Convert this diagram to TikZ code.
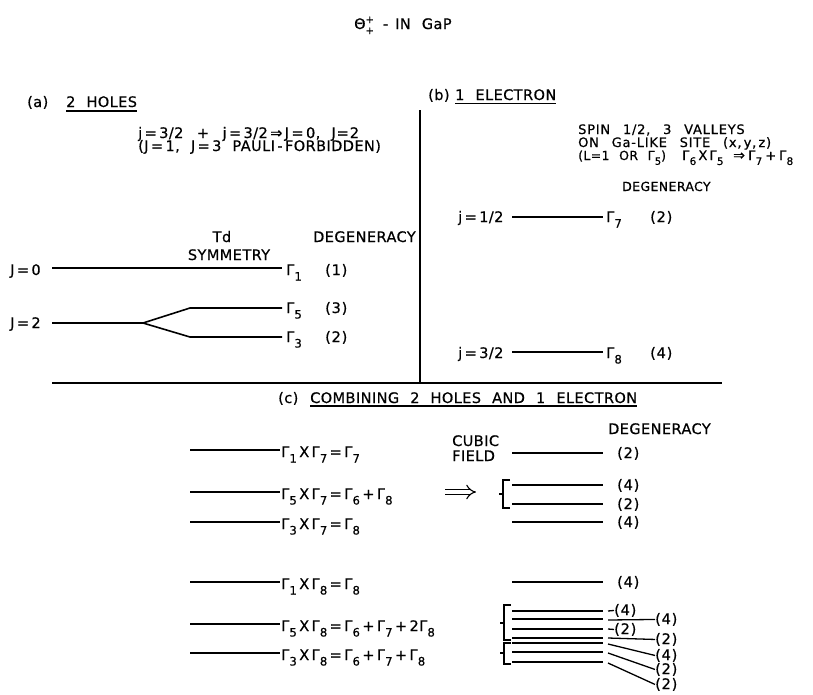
\documentclass[tikz,border=0pt]{standalone}
\usepackage{fontspec}
\setmainfont{DejaVu Sans}[WordSpace=2.2,LetterSpace=3,FakeBold=0.6]
\newfontfamily\wide{DejaVu Sans}[WordSpace=2.6,LetterSpace=6,FakeBold=0.6]
\usetikzlibrary{arrows.meta}
\newcommand{\Gm}[1]{Γ\kern0.2pt\raisebox{-0.38em}{\scalebox{0.8}{#1}}}
\newcommand{\dg}[1]{(\kern0.8pt#1\kern0.8pt)}
\tikzset{
  t/.style={inner sep=0pt, anchor=base west, font=\fontsize{14.5}{16}\selectfont},
  tc/.style={t, anchor=base},
  ts/.style={t, font=\wide\fontsize{13}{14}\selectfont},
  tsd/.style={t, font=\fontsize{12.5}{14}\selectfont},
  lv/.style={line width=1.6pt},
  lb/.style={line width=2.4pt},
  ln/.style={line width=1.3pt},
  ul/.style={line width=1.2pt},
  fr/.style={line width=1.5pt},
}
\begin{document}
\begin{tikzpicture}[x=1pt,y=-1pt]
\useasboundingbox (0,0) rectangle (813,694);
% title
\node[t] (title) at (354,29) {Θ\makebox[0pt][l]{\raisebox{6pt}{\fontsize{10}{10}\selectfont+}}\raisebox{-5pt}{\fontsize{10}{10}\selectfont+}\kern9pt-\kern7pt IN GaP};
% frame
\draw[fr] (420,110) -- (420,383);
\draw[fr] (52,383) -- (722,383);
% (a)
\node[t] (alab) at (27,107) {(a)};
\node[t] (ahead) at (66,107) {2 HOLES};
\draw[ul] ([yshift=-4pt]ahead.base west) -- ([yshift=-4pt]ahead.base east);
\node[t] (aeq1) at (138,138) {j\,=\,3/2 \,+\, j\,=\,3/2\,⇒\,J\,=\,0, J\kern1pt=\kern1pt2};
\node[t] (aeq2) at (138,151) {(J\,=\,1, J\,=\,3 PAULI\,-\,FORBIDDEN)};
\node[tc] (td) at (222,242) {Td};
\node[tc] (sym) at (229,260) {SYMMETRY};
\node[t] (adeg) at (313,242) {DEGENERACY};
\node[t] (J0) at (10,275) {J\,=\,0};
\node[t] (J2) at (10,328) {J\,=\,2};
\coordinate (s) at (143,323);
\draw[lv] (52,268) -- (282,268);
\draw[lv] (52,323) -- (s) -- (190,308) -- (282,308);
\draw[lv] (s) -- (190,337) -- (282,337);
\node[t] (g1) at (286,275) {\Gm{1}};
\node[t] (g5) at (286,313) {\Gm{5}};
\node[t] (g3) at (286,342) {\Gm{3}};
\node[t] (d1) at (325,275) {\dg{1}};
\node[t] (d3) at (325,313) {\dg{3}};
\node[t] (d2) at (325,342) {\dg{2}};
% (b)
\node[t] (blab) at (428,100) {(b)};
\node[t] (bhead) at (455,100) {1 ELECTRON};
\draw[ul] ([yshift=-3.5pt]bhead.base west) -- ([yshift=-3.5pt]bhead.base east);
\node[ts] (b1) at (578,134) {SPIN 1/2, 3 VALLEYS};
\node[ts] (b2) at (578,147) {ON Ga-LIKE SITE (x,\,y,\,z)};
\node[tsd] (b3a) at (578,160) {(L=1 OR \Gm{5})};
\node[ts] (b3b) at (682,160) {\Gm{6}\,X\,\Gm{5}};
\node[ts] (b3c) at (733,160) {\fontsize{14}{14}\selectfont⇒};
\node[ts] (b3d) at (748,160) {\Gm{7}\kern3pt+\kern3pt\Gm{8}};
\node[tsd] (bdeg) at (622,191) {DEGENERACY};
\node[t] (j12) at (458,222) {j\,=\,1/2};
\node[t] (j32) at (458,358) {j\,=\,3/2};
\node[t] (g7) at (606,222) {\Gm{7}};
\node[t] (g8) at (606,358) {\Gm{8}};
\draw[ln] (512,217) -- (603,217);
\draw[ln] (512,352) -- (603,352);
\node[t] (bd2) at (650,222) {\dg{2}};
\node[t] (bd4) at (650,358) {\dg{4}};
% (c)
\node[t] (clab) at (278,403) {(c)};
\node[t] (chead) at (310,403) {COMBINING 2 HOLES AND 1 ELECTRON};
\draw[ul] ([yshift=-3pt]chead.base west) -- ([yshift=-3pt]chead.base east);
\node[t] (cdeg) at (608,434) {DEGENERACY};
\node[t] (cub) at (452,446) {CUBIC};
\node[t] (fld) at (452,461) {FIELD};
\coordinate (arrA) at (445,492);
\coordinate (arrB) at (476,492);
\draw[double, double distance=4pt, line width=1.1pt, -{Implies[length=6pt]}] (arrA) -- (arrB);
% left levels
\foreach \y/\txt in {450/{\Gm{1}\,X\,\Gm{7}\,=\,\Gm{7}},
                     492/{\Gm{5}\,X\,\Gm{7}\,=\,\Gm{6}\,+\,\Gm{8}},
                     522/{\Gm{3}\,X\,\Gm{7}\,=\,\Gm{8}},
                     582/{\Gm{1}\,X\,\Gm{8}\,=\,\Gm{8}},
                     624/{\Gm{5}\,X\,\Gm{8}\,=\,\Gm{6}\,+\,\Gm{7}\,+\,2\Gm{8}},
                     653/{\Gm{3}\,X\,\Gm{8}\,=\,\Gm{6}\,+\,\Gm{7}\,+\,\Gm{8}}}{
  \draw[ln] (190,\y) -- (280,\y);
  \node[t] at (281,\y+7) {\txt};
}
% right levels
\foreach \y/\d in {453/2,485/4,504/2,522/4,582/4}{
  \draw[ln] (512,\y) -- (603,\y);
  \node[t] at (617,\y+5) {\dg{\d}};
}
\draw[ln] (510,480) -- (503,480) -- (503,508) -- (510,508);
\draw[ln] (503,494) -- (499,494);
% bottom group
\foreach \y in {611,619,629,638,643,652,662}{
  \draw[lb] (512,\y) -- (603,\y);
}
\draw[ln] (511,605) -- (504,605) -- (504,640) -- (511,640);
\draw[ln] (504,623) -- (500,623);
\draw[ln] (511,643) -- (504,643) -- (504,664) -- (511,664);
\draw[ln] (504,653) -- (500,653);
\node[t] (e1) at (614,615) {\dg{4}};
\node[t] (e2) at (655,624) {\dg{4}};
\node[t] (e3) at (614,634) {\dg{2}};
\node[t] (e4) at (655,644) {\dg{2}};
\node[t] (e5) at (655,660) {\dg{4}};
\node[t] (e6) at (655,674) {\dg{2}};
\node[t] (e7) at (655,689) {\dg{2}};
\draw[ln] (608,611) -- (e1.west);
\draw[ln] (608,620) -- (e2.west);
\draw[ln] (608,629) -- (e3.west);
\draw[ln] (608,638) -- (e4.west);
\draw[ln] (608,644) -- (e5.west);
\draw[ln] (608,653) -- (e6.west);
\draw[ln] (608,663) -- (e7.west);
\end{tikzpicture}
\end{document}
